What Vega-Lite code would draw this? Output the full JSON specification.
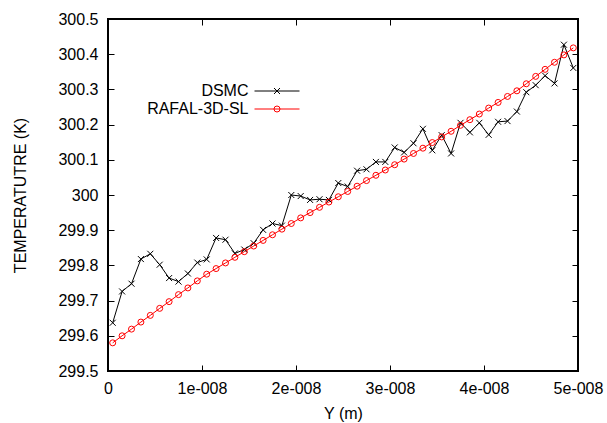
{
  "$schema": "https://vega.github.io/schema/vega-lite/v6.json",
  "width": 470,
  "height": 352,
  "autosize": {"type": "none"},
  "padding": {"left": 108, "top": 19, "right": 29, "bottom": 52},
  "background": "white",
  "config": {
    "font": "Liberation Sans",
    "view": {"stroke": "black", "strokeWidth": 2},
    "axis": {
      "labelFont": "Liberation Sans", "labelFontSize": 16, "labelColor": "black",
      "titleFont": "Liberation Sans", "titleFontSize": 16, "titleFontWeight": "normal", "titleColor": "black",
      "grid": false, "domain": false, "tickColor": "black", "tickWidth": 1, "tickSize": -6
    },
    "legend": {"labelFont": "Liberation Sans", "labelFontSize": 16, "labelColor": "black"}
  },
  "data": {"values": [
    {"x": 5e-10, "DSMC": 299.637, "RAFAL-3D-SL": 299.580},
    {"x": 1.5e-9, "DSMC": 299.726, "RAFAL-3D-SL": 299.600},
    {"x": 2.5e-9, "DSMC": 299.748, "RAFAL-3D-SL": 299.619},
    {"x": 3.5e-9, "DSMC": 299.818, "RAFAL-3D-SL": 299.639},
    {"x": 4.5e-9, "DSMC": 299.833, "RAFAL-3D-SL": 299.658},
    {"x": 5.5e-9, "DSMC": 299.802, "RAFAL-3D-SL": 299.678},
    {"x": 6.5e-9, "DSMC": 299.764, "RAFAL-3D-SL": 299.697},
    {"x": 7.5e-9, "DSMC": 299.754, "RAFAL-3D-SL": 299.717},
    {"x": 8.5e-9, "DSMC": 299.777, "RAFAL-3D-SL": 299.736},
    {"x": 9.5e-9, "DSMC": 299.808, "RAFAL-3D-SL": 299.756},
    {"x": 1.05e-8, "DSMC": 299.817, "RAFAL-3D-SL": 299.775},
    {"x": 1.15e-8, "DSMC": 299.878, "RAFAL-3D-SL": 299.791},
    {"x": 1.25e-8, "DSMC": 299.873, "RAFAL-3D-SL": 299.807},
    {"x": 1.35e-8, "DSMC": 299.834, "RAFAL-3D-SL": 299.823},
    {"x": 1.45e-8, "DSMC": 299.845, "RAFAL-3D-SL": 299.839},
    {"x": 1.55e-8, "DSMC": 299.863, "RAFAL-3D-SL": 299.855},
    {"x": 1.65e-8, "DSMC": 299.901, "RAFAL-3D-SL": 299.871},
    {"x": 1.75e-8, "DSMC": 299.919, "RAFAL-3D-SL": 299.887},
    {"x": 1.85e-8, "DSMC": 299.913, "RAFAL-3D-SL": 299.903},
    {"x": 1.95e-8, "DSMC": 300.000, "RAFAL-3D-SL": 299.919},
    {"x": 2.05e-8, "DSMC": 299.997, "RAFAL-3D-SL": 299.935},
    {"x": 2.15e-8, "DSMC": 299.986, "RAFAL-3D-SL": 299.950},
    {"x": 2.25e-8, "DSMC": 299.988, "RAFAL-3D-SL": 299.965},
    {"x": 2.35e-8, "DSMC": 299.986, "RAFAL-3D-SL": 299.980},
    {"x": 2.45e-8, "DSMC": 300.034, "RAFAL-3D-SL": 299.995},
    {"x": 2.55e-8, "DSMC": 300.024, "RAFAL-3D-SL": 300.010},
    {"x": 2.65e-8, "DSMC": 300.069, "RAFAL-3D-SL": 300.025},
    {"x": 2.75e-8, "DSMC": 300.073, "RAFAL-3D-SL": 300.041},
    {"x": 2.85e-8, "DSMC": 300.094, "RAFAL-3D-SL": 300.056},
    {"x": 2.95e-8, "DSMC": 300.094, "RAFAL-3D-SL": 300.071},
    {"x": 3.05e-8, "DSMC": 300.135, "RAFAL-3D-SL": 300.086},
    {"x": 3.15e-8, "DSMC": 300.121, "RAFAL-3D-SL": 300.102},
    {"x": 3.25e-8, "DSMC": 300.147, "RAFAL-3D-SL": 300.118},
    {"x": 3.35e-8, "DSMC": 300.188, "RAFAL-3D-SL": 300.133},
    {"x": 3.45e-8, "DSMC": 300.127, "RAFAL-3D-SL": 300.149},
    {"x": 3.55e-8, "DSMC": 300.170, "RAFAL-3D-SL": 300.165},
    {"x": 3.65e-8, "DSMC": 300.118, "RAFAL-3D-SL": 300.181},
    {"x": 3.75e-8, "DSMC": 300.205, "RAFAL-3D-SL": 300.198},
    {"x": 3.85e-8, "DSMC": 300.178, "RAFAL-3D-SL": 300.214},
    {"x": 3.95e-8, "DSMC": 300.205, "RAFAL-3D-SL": 300.230},
    {"x": 4.05e-8, "DSMC": 300.171, "RAFAL-3D-SL": 300.247},
    {"x": 4.15e-8, "DSMC": 300.208, "RAFAL-3D-SL": 300.263},
    {"x": 4.25e-8, "DSMC": 300.210, "RAFAL-3D-SL": 300.280},
    {"x": 4.35e-8, "DSMC": 300.237, "RAFAL-3D-SL": 300.296},
    {"x": 4.45e-8, "DSMC": 300.292, "RAFAL-3D-SL": 300.316},
    {"x": 4.55e-8, "DSMC": 300.312, "RAFAL-3D-SL": 300.337},
    {"x": 4.65e-8, "DSMC": 300.339, "RAFAL-3D-SL": 300.357},
    {"x": 4.75e-8, "DSMC": 300.317, "RAFAL-3D-SL": 300.377},
    {"x": 4.85e-8, "DSMC": 300.427, "RAFAL-3D-SL": 300.398},
    {"x": 4.95e-8, "DSMC": 300.361, "RAFAL-3D-SL": 300.418}
  ]},
  "transform": [{"fold": ["DSMC", "RAFAL-3D-SL"], "as": ["series", "T"]}],
  "layer": [
    {
      "mark": {"type": "line", "strokeWidth": 1},
      "encoding": {
        "x": {"field": "x", "type": "quantitative", "scale": {"domain": [0, 5e-8], "nice": false},
          "axis": {"orient": "bottom", "title": "Y (m)", "values": [0, 1e-8, 2e-8, 3e-8, 4e-8, 5e-8],
            "labelExpr": "datum.value == 0 ? '0' : format(datum.value * 1e8, '.0f') + 'e-008'",
            "labelPadding": 15, "titlePadding": 9, "labelFlush": false}},
        "y": {"field": "T", "type": "quantitative", "scale": {"domain": [299.5, 300.5], "nice": false, "zero": false},
          "axis": {"orient": "left", "title": "TEMPERATUTRE (K)", "values": [299.5, 299.6, 299.7, 299.8, 299.9, 300, 300.1, 300.2, 300.3, 300.4, 300.5],
            "format": "~f", "labelPadding": 16, "titlePadding": 29}},
        "color": {"field": "series", "type": "nominal",
          "scale": {"domain": ["DSMC", "RAFAL-3D-SL"], "range": ["black", "#ff0000"]},
          "legend": {"orient": "none", "legendX": 161, "legendY": 64, "title": null, "padding": 0,
            "symbolType": "M-7.5,0H7.5", "symbolSize": 36, "symbolStrokeWidth": 1,
            "labelAlign": "right", "labelOffset": -36.5, "rowPadding": 2}}
      }
    },
    {
      "mark": {"type": "point", "filled": false, "size": 36, "strokeWidth": 1, "opacity": 1},
      "encoding": {
        "x": {"field": "x", "type": "quantitative", "scale": {"domain": [0, 5e-8], "nice": false},
          "axis": {"orient": "top", "labels": false, "title": null, "values": [0, 1e-8, 2e-8, 3e-8, 4e-8, 5e-8]}},
        "y": {"field": "T", "type": "quantitative", "scale": {"domain": [299.5, 300.5], "nice": false, "zero": false},
          "axis": {"orient": "right", "labels": false, "title": null, "values": [299.5, 299.6, 299.7, 299.8, 299.9, 300, 300.1, 300.2, 300.3, 300.4, 300.5]}},
        "color": {"field": "series", "type": "nominal",
          "scale": {"domain": ["DSMC", "RAFAL-3D-SL"], "range": ["black", "#ff0000"]},
          "legend": {"orient": "none", "legendX": 161, "legendY": 64, "title": null, "padding": 0,
            "symbolSize": 36, "symbolStrokeWidth": 1, "labelOpacity": 0, "rowPadding": 2}},
        "shape": {"field": "series", "type": "nominal",
          "scale": {"domain": ["DSMC", "RAFAL-3D-SL"], "range": ["M-1,-1L1,1M-1,1L1,-1", "circle"]},
          "legend": {"orient": "none", "legendX": 161, "legendY": 64, "title": null, "padding": 0,
            "symbolSize": 36, "symbolStrokeWidth": 1, "labelOpacity": 0, "rowPadding": 2}}
      }
    }
  ],
  "resolve": {"axis": {"x": "independent", "y": "independent"}, "legend": {"color": "independent", "shape": "independent"}}
}
